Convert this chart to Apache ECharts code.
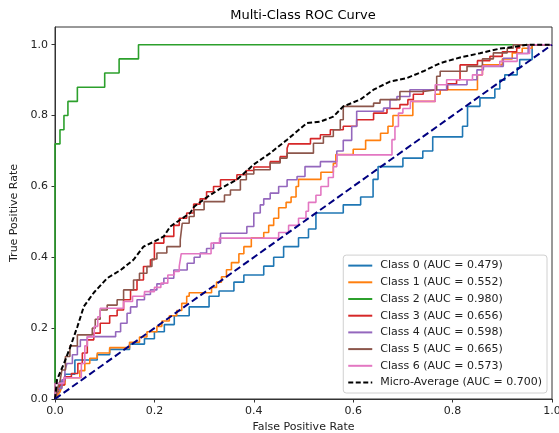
<!DOCTYPE html>
<html>
<head>
<meta charset="utf-8">
<script src="https://cdn.jsdelivr.net/npm/echarts@6/dist/echarts.min.js"></script>
<style>
  html, body { margin: 0; padding: 0; background: #fff; }
  #chart { width: 559px; height: 433px; }
</style>
</head>
<body>
<div id="chart"></div>
<script>
// ROC points [fpr, tpr]
const classNames = [
  'Class 0 (AUC = 0.479)', 'Class 1 (AUC = 0.552)', 'Class 2 (AUC = 0.980)',
  'Class 3 (AUC = 0.656)', 'Class 4 (AUC = 0.598)', 'Class 5 (AUC = 0.665)',
  'Class 6 (AUC = 0.573)'
];
const microName = 'Micro-Average (AUC = 0.700)';
const classColors = ['#1f77b4', '#ff7f0e', '#2ca02c', '#d62728', '#9467bd', '#8c564b', '#e377c2'];
const tickValues = [0, 0.2, 0.4, 0.6, 0.8, 1.0];

const class0 = [[0,0],[0,0.02],[0.01,0.02],[0.01,0.05],[0.02,0.05],[0.02,0.07],[0.04,0.07],[0.04,0.11],[0.085,0.11],[0.085,0.125],[0.11,0.125],[0.11,0.14],[0.15,0.14],[0.15,0.155],[0.18,0.155],[0.18,0.17],[0.2,0.17],[0.2,0.19],[0.22,0.19],[0.22,0.21],[0.24,0.21],[0.24,0.235],[0.27,0.235],[0.27,0.26],[0.31,0.26],[0.31,0.29],[0.33,0.29],[0.33,0.305],[0.36,0.305],[0.36,0.33],[0.38,0.33],[0.38,0.35],[0.42,0.35],[0.42,0.375],[0.44,0.375],[0.44,0.40],[0.46,0.40],[0.46,0.43],[0.49,0.43],[0.49,0.455],[0.51,0.455],[0.51,0.48],[0.525,0.48],[0.525,0.525],[0.58,0.525],[0.58,0.548],[0.615,0.548],[0.615,0.57],[0.64,0.57],[0.64,0.62],[0.65,0.62],[0.65,0.656],[0.70,0.656],[0.70,0.68],[0.74,0.68],[0.74,0.70],[0.76,0.70],[0.76,0.74],[0.82,0.74],[0.82,0.77],[0.83,0.77],[0.83,0.826],[0.855,0.826],[0.855,0.85],[0.885,0.85],[0.885,0.875],[0.895,0.875],[0.895,0.90],[0.905,0.90],[0.905,0.915],[0.93,0.915],[0.93,0.935],[0.935,0.935],[0.935,0.958],[0.96,0.958],[0.96,1],[1,1]];

const class1 = [[0,0],[0.01,0.02],[0.015,0.04],[0.02,0.04],[0.02,0.06],[0.05,0.06],[0.05,0.08],[0.06,0.08],[0.06,0.10],[0.07,0.10],[0.07,0.115],[0.085,0.115],[0.085,0.13],[0.11,0.13],[0.11,0.145],[0.15,0.145],[0.15,0.16],[0.17,0.16],[0.17,0.175],[0.185,0.175],[0.185,0.19],[0.205,0.19],[0.205,0.205],[0.215,0.205],[0.215,0.22],[0.23,0.22],[0.23,0.235],[0.245,0.235],[0.245,0.25],[0.255,0.25],[0.255,0.27],[0.265,0.27],[0.265,0.29],[0.27,0.29],[0.27,0.30],[0.315,0.30],[0.315,0.315],[0.325,0.315],[0.325,0.33],[0.335,0.33],[0.335,0.345],[0.345,0.345],[0.345,0.365],[0.355,0.365],[0.355,0.385],[0.37,0.385],[0.37,0.41],[0.38,0.41],[0.38,0.43],[0.395,0.43],[0.395,0.455],[0.42,0.455],[0.42,0.47],[0.43,0.47],[0.43,0.49],[0.44,0.49],[0.44,0.51],[0.45,0.51],[0.45,0.54],[0.465,0.54],[0.465,0.555],[0.475,0.555],[0.475,0.57],[0.485,0.57],[0.485,0.60],[0.49,0.60],[0.49,0.62],[0.535,0.62],[0.535,0.64],[0.56,0.64],[0.56,0.665],[0.565,0.665],[0.565,0.69],[0.60,0.69],[0.60,0.705],[0.625,0.705],[0.625,0.73],[0.655,0.73],[0.655,0.75],[0.67,0.75],[0.67,0.77],[0.68,0.77],[0.68,0.80],[0.72,0.80],[0.72,0.84],[0.765,0.84],[0.765,0.86],[0.775,0.86],[0.775,0.873],[0.85,0.873],[0.85,0.915],[0.86,0.915],[0.86,0.943],[0.90,0.943],[0.90,0.96],[0.92,0.96],[0.92,0.977],[0.94,0.977],[0.94,0.99],[0.96,0.99],[0.96,1],[1,1]];

const class2 = [[0,0],[0,0.72],[0.01,0.72],[0.01,0.76],[0.018,0.76],[0.018,0.80],[0.026,0.80],[0.026,0.84],[0.045,0.84],[0.045,0.88],[0.10,0.88],[0.10,0.92],[0.129,0.92],[0.129,0.96],[0.168,0.96],[0.168,1],[1,1]];

const class3 = [[0,0],[0.005,0.02],[0.01,0.04],[0.019,0.04],[0.019,0.063],[0.033,0.063],[0.033,0.072],[0.046,0.072],[0.046,0.10],[0.055,0.10],[0.055,0.13],[0.065,0.13],[0.065,0.167],[0.078,0.167],[0.078,0.186],[0.091,0.186],[0.091,0.214],[0.11,0.214],[0.11,0.235],[0.125,0.235],[0.125,0.251],[0.138,0.251],[0.138,0.28],[0.152,0.28],[0.152,0.308],[0.165,0.308],[0.165,0.336],[0.178,0.336],[0.178,0.374],[0.192,0.374],[0.192,0.393],[0.2,0.393],[0.2,0.44],[0.219,0.44],[0.219,0.459],[0.239,0.459],[0.239,0.49],[0.25,0.49],[0.25,0.51],[0.265,0.51],[0.265,0.525],[0.279,0.525],[0.279,0.55],[0.292,0.55],[0.292,0.565],[0.305,0.565],[0.305,0.585],[0.319,0.585],[0.319,0.60],[0.333,0.60],[0.333,0.619],[0.366,0.619],[0.366,0.633],[0.385,0.633],[0.385,0.645],[0.40,0.645],[0.40,0.655],[0.433,0.655],[0.433,0.67],[0.453,0.67],[0.453,0.684],[0.467,0.684],[0.467,0.708],[0.47,0.708],[0.47,0.72],[0.514,0.72],[0.514,0.735],[0.534,0.735],[0.534,0.746],[0.554,0.746],[0.554,0.76],[0.58,0.76],[0.58,0.77],[0.607,0.77],[0.607,0.788],[0.641,0.788],[0.641,0.807],[0.668,0.807],[0.668,0.82],[0.694,0.82],[0.694,0.831],[0.71,0.831],[0.71,0.845],[0.721,0.845],[0.721,0.86],[0.741,0.86],[0.741,0.873],[0.79,0.873],[0.79,0.89],[0.808,0.89],[0.808,0.901],[0.815,0.901],[0.815,0.943],[0.85,0.943],[0.85,0.955],[0.875,0.955],[0.875,0.967],[0.90,0.967],[0.90,0.98],[0.929,0.98],[0.929,0.991],[0.935,0.991],[0.935,1],[1,1]];

const class4 = [[0,0],[0.005,0.03],[0.014,0.03],[0.014,0.054],[0.02,0.054],[0.02,0.08],[0.024,0.08],[0.024,0.10],[0.035,0.10],[0.035,0.125],[0.045,0.125],[0.045,0.148],[0.051,0.148],[0.051,0.167],[0.065,0.167],[0.065,0.176],[0.122,0.176],[0.122,0.19],[0.132,0.19],[0.132,0.214],[0.145,0.214],[0.145,0.242],[0.152,0.242],[0.152,0.26],[0.165,0.26],[0.165,0.28],[0.18,0.28],[0.18,0.295],[0.192,0.295],[0.192,0.308],[0.205,0.308],[0.205,0.325],[0.219,0.325],[0.219,0.341],[0.239,0.341],[0.239,0.364],[0.266,0.364],[0.266,0.383],[0.28,0.383],[0.28,0.40],[0.292,0.40],[0.292,0.412],[0.305,0.412],[0.305,0.425],[0.319,0.425],[0.319,0.44],[0.333,0.44],[0.333,0.468],[0.386,0.468],[0.386,0.487],[0.40,0.487],[0.40,0.525],[0.413,0.525],[0.413,0.548],[0.42,0.548],[0.42,0.565],[0.433,0.565],[0.433,0.581],[0.45,0.581],[0.45,0.60],[0.467,0.60],[0.467,0.619],[0.487,0.619],[0.487,0.628],[0.503,0.628],[0.503,0.656],[0.534,0.656],[0.534,0.67],[0.567,0.67],[0.567,0.70],[0.58,0.70],[0.58,0.73],[0.597,0.73],[0.597,0.769],[0.607,0.769],[0.607,0.812],[0.661,0.812],[0.661,0.821],[0.674,0.821],[0.674,0.845],[0.688,0.845],[0.688,0.854],[0.714,0.854],[0.714,0.873],[0.788,0.873],[0.788,0.887],[0.829,0.887],[0.829,0.901],[0.849,0.901],[0.849,0.929],[0.862,0.929],[0.862,0.939],[0.902,0.939],[0.902,0.962],[0.93,0.962],[0.93,0.975],[0.952,0.975],[0.952,1],[1,1]];

const class5 = [[0,0],[0.005,0.03],[0.01,0.05],[0.014,0.05],[0.014,0.082],[0.021,0.082],[0.021,0.12],[0.03,0.12],[0.03,0.15],[0.045,0.15],[0.045,0.181],[0.075,0.181],[0.075,0.2],[0.081,0.2],[0.081,0.225],[0.091,0.225],[0.091,0.251],[0.105,0.251],[0.105,0.265],[0.125,0.265],[0.125,0.28],[0.138,0.28],[0.138,0.308],[0.158,0.308],[0.158,0.336],[0.17,0.336],[0.17,0.355],[0.185,0.355],[0.185,0.374],[0.195,0.374],[0.195,0.395],[0.205,0.395],[0.205,0.412],[0.225,0.412],[0.225,0.43],[0.252,0.43],[0.252,0.449],[0.256,0.449],[0.256,0.496],[0.27,0.496],[0.27,0.515],[0.28,0.515],[0.28,0.534],[0.30,0.534],[0.30,0.557],[0.341,0.557],[0.341,0.576],[0.353,0.576],[0.353,0.59],[0.373,0.59],[0.373,0.619],[0.385,0.619],[0.385,0.635],[0.40,0.635],[0.40,0.647],[0.433,0.647],[0.433,0.666],[0.453,0.666],[0.453,0.68],[0.467,0.68],[0.467,0.694],[0.52,0.694],[0.52,0.722],[0.54,0.722],[0.54,0.741],[0.56,0.741],[0.56,0.76],[0.574,0.76],[0.574,0.788],[0.58,0.788],[0.58,0.826],[0.641,0.826],[0.641,0.835],[0.654,0.835],[0.654,0.845],[0.694,0.845],[0.694,0.868],[0.741,0.868],[0.741,0.873],[0.768,0.873],[0.768,0.911],[0.775,0.911],[0.775,0.925],[0.829,0.925],[0.829,0.939],[0.86,0.939],[0.86,0.96],[0.882,0.96],[0.882,0.977],[0.91,0.977],[0.91,0.99],[0.922,0.99],[0.922,1],[1,1]];

const class6 = [[0,0],[0,0.044],[0.018,0.044],[0.018,0.06],[0.053,0.06],[0.053,0.10],[0.06,0.10],[0.06,0.15],[0.065,0.15],[0.065,0.176],[0.079,0.176],[0.079,0.205],[0.086,0.205],[0.086,0.232],[0.091,0.232],[0.091,0.256],[0.138,0.256],[0.138,0.275],[0.156,0.275],[0.156,0.29],[0.18,0.29],[0.18,0.303],[0.2,0.303],[0.2,0.315],[0.213,0.315],[0.213,0.327],[0.227,0.327],[0.227,0.35],[0.24,0.35],[0.24,0.36],[0.25,0.36],[0.25,0.374],[0.254,0.374],[0.254,0.41],[0.314,0.41],[0.314,0.44],[0.331,0.44],[0.331,0.454],[0.45,0.454],[0.45,0.47],[0.47,0.47],[0.47,0.49],[0.49,0.49],[0.49,0.51],[0.505,0.51],[0.505,0.53],[0.51,0.53],[0.51,0.555],[0.525,0.555],[0.525,0.575],[0.535,0.575],[0.535,0.60],[0.55,0.60],[0.55,0.625],[0.56,0.625],[0.56,0.656],[0.567,0.656],[0.567,0.689],[0.678,0.689],[0.678,0.732],[0.684,0.732],[0.684,0.769],[0.691,0.769],[0.691,0.807],[0.70,0.807],[0.70,0.82],[0.715,0.82],[0.715,0.84],[0.765,0.84],[0.765,0.887],[0.788,0.887],[0.788,0.901],[0.84,0.901],[0.84,0.915],[0.86,0.915],[0.86,0.94],[0.895,0.94],[0.895,0.953],[0.93,0.953],[0.93,0.975],[0.955,0.975],[0.955,1],[1,1]];

const micro = [[0,0],[0.004,0.054],[0.018,0.10],[0.031,0.148],[0.045,0.204],[0.058,0.261],[0.078,0.30],[0.105,0.341],[0.132,0.364],[0.158,0.393],[0.178,0.43],[0.199,0.444],[0.219,0.459],[0.232,0.487],[0.252,0.506],[0.272,0.525],[0.28,0.543],[0.307,0.571],[0.334,0.595],[0.366,0.619],[0.40,0.662],[0.433,0.694],[0.467,0.732],[0.507,0.779],[0.534,0.783],[0.56,0.797],[0.58,0.826],[0.614,0.845],[0.641,0.873],[0.674,0.896],[0.708,0.906],[0.741,0.925],[0.775,0.948],[0.815,0.964],[0.855,0.976],[0.895,0.989],[0.929,0.995],[0.95,1],[1,1]];

const chance = [[0,0],[1,1]];

const classData = [class0, class1, class2, class3, class4, class5, class6];
const FONT = 'DejaVu Sans';

const chart = echarts.init(document.getElementById('chart'));

const series = classData.map((d, i) => ({
  name: classNames[i],
  type: 'line',
  data: d,
  symbol: 'none',
  lineStyle: { color: classColors[i], width: 1.6 },
  itemStyle: { color: classColors[i] }
}));
series.push({
  name: microName,
  type: 'line',
  data: micro,
  symbol: 'none',
  lineStyle: { color: '#000', width: 2, type: [5, 2.5] },
  itemStyle: { color: '#000' }
});
series.push({
  name: 'chance',
  type: 'line',
  data: chance,
  symbol: 'none',
  silent: true,
  lineStyle: { color: '#000080', width: 2, type: [7, 3.5] }
});

chart.setOption({
  animation: false,
  backgroundColor: '#fff',
  title: {
    text: 'Multi-Class ROC Curve',
    left: 298,
    textAlign: 'center',
    top: 4,
    textStyle: { fontFamily: FONT, fontSize: 13, fontWeight: 'normal', color: '#000' }
  },
  grid: {
    left: 55, right: 7, top: 27, bottom: 34,
    outerBoundsMode: 'none',
    show: true, borderColor: '#333', borderWidth: 1
  },
  legend: {
    data: classNames.concat([microName]),
    orient: 'vertical',
    right: 12,
    bottom: 40,
    backgroundColor: '#fff',
    borderColor: '#d0d0d0',
    borderWidth: 1,
    borderRadius: 3,
    padding: [5, 5, 5, 4],
    itemWidth: 24,
    itemHeight: 11,
    itemGap: 5.7,
    itemStyle: { color: 'transparent', borderColor: 'transparent', borderWidth: 0 },
    textStyle: { fontFamily: FONT, fontSize: 11, lineHeight: 11, color: '#222', padding: [0, 0, 0, 3] }
  },
  xAxis: {
    type: 'value',
    min: 0, max: 1, interval: 0.2,
    name: 'False Positive Rate',
    nameLocation: 'middle',
    nameGap: 23,
    nameTextStyle: { fontFamily: FONT, fontSize: 11, color: '#222' },
    axisLine: { show: true, lineStyle: { color: '#333' } },
    axisTick: { show: true, length: 3.5, lineStyle: { color: '#333' } },
    axisLabel: { fontFamily: FONT, fontSize: 11, color: '#222', margin: 7,
      formatter: v => v.toFixed(1) },
    splitLine: { show: false }
  },
  yAxis: {
    type: 'value',
    min: 0, max: 1.05,
    name: 'True Positive Rate',
    nameLocation: 'middle',
    nameGap: 30,
    nameTextStyle: { fontFamily: FONT, fontSize: 11, color: '#222' },
    axisLine: { show: true, lineStyle: { color: '#333' } },
    axisTick: { show: true, length: 3.5, lineStyle: { color: '#333' }, customValues: tickValues },
    axisLabel: { fontFamily: FONT, fontSize: 11, color: '#222', margin: 7,
      customValues: tickValues, formatter: v => v.toFixed(1) },
    splitLine: { show: false }
  },
  series: series
});
</script>
</body>
</html>
